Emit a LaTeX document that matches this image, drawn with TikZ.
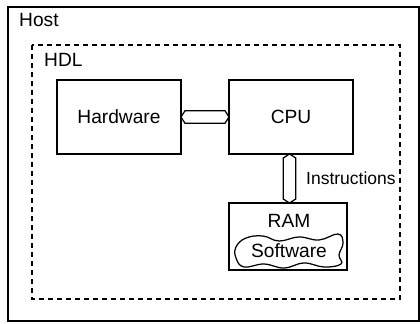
\documentclass[tikz,border=0pt]{standalone}
\usepackage{fontspec}
\setmainfont{Liberation Sans}
\usetikzlibrary{shapes.arrows,calc}
\begin{document}
\begin{tikzpicture}[x=0.6pt,y=-0.6pt,line width=0.75pt,
  font=\fontsize{11.5}{13}\selectfont,
  unit/.style={draw,rectangle,inner sep=0pt},
  bus/.style={draw,double arrow,inner sep=0pt,minimum width=7.4pt,
    double arrow head extend=0pt,double arrow tip angle=115},
  frame/.style={dash pattern=on 3pt off 2.4pt}]
\useasboundingbox (0,0) rectangle (420,323);
% Host and HDL frames
\draw (8,7) rectangle (419,321);
\node[anchor=west] (host) at (13,20) {Host};
\draw[frame] (32,45) rectangle (400,299);
\node[anchor=west] (hdl) at (38,60) {HDL};

% Units
\node[unit,minimum width=74.4pt,minimum height=44.4pt] (hw) at (119,117) {Hardware};
\node[unit,minimum width=74.4pt,minimum height=44.4pt] (cpu) at (291,117) {CPU};
\node[unit,minimum width=70.8pt,minimum height=40.2pt] (ram) at (288,236.5) {};
\node (ramlbl) at (289,221) {RAM};
\node (sw) at (289,251) {Software};
\draw plot[smooth cycle,tension=0.7] coordinates {
  ($(sw)+(-53,-4)$) ($(sw)+(-43,-13)$) ($(sw)+(-26,-15)$) ($(sw)+(-10,-10)$)
  ($(sw)+(10,-14)$) ($(sw)+(30,-11)$) ($(sw)+(49,-17)$) ($(sw)+(54,-8)$)
  ($(sw)+(50,4)$) ($(sw)+(52,13)$) ($(sw)+(35,16)$) ($(sw)+(15,12)$)
  ($(sw)+(-5,17)$) ($(sw)+(-25,13)$) ($(sw)+(-45,16)$) ($(sw)+(-53,7)$)};

% Buses
\node[bus,minimum height=28.8pt] (hwcpu) at ($(hw.east)!.5!(cpu.west)$) {};
\node[bus,minimum height=29.4pt,shape border rotate=90] (cpuram)
  at ($(cpu.south)!.5!(ram.north)$) {};
\node[anchor=west,font=\fontsize{10.5}{12}\selectfont] (instr) at (300,178) {Instructions};
\end{tikzpicture}
\end{document}
